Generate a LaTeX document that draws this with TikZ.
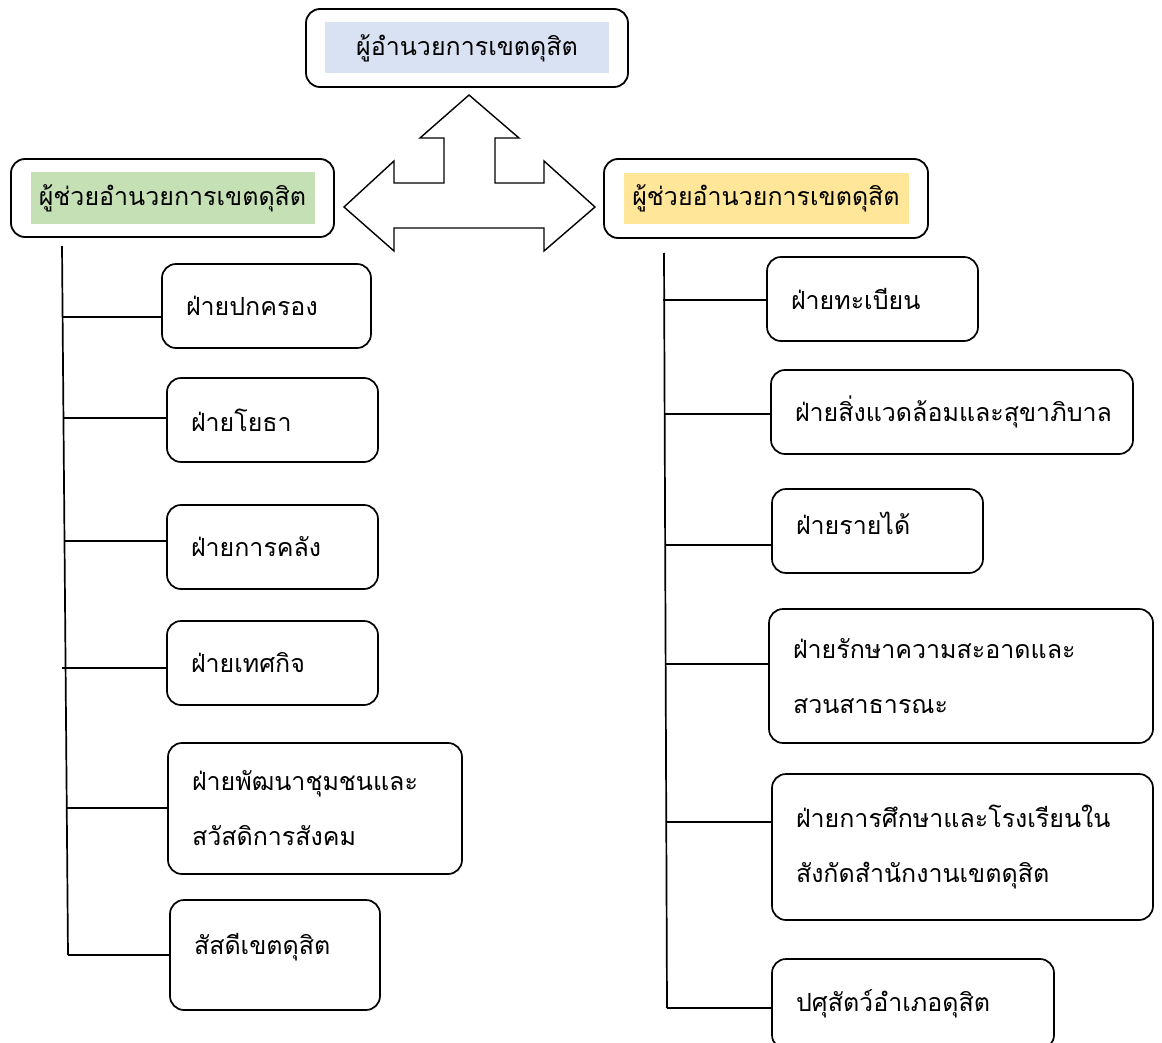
\documentclass[tikz,border=0pt]{standalone}
\usepackage{fontspec}
\newfontfamily\thai[Script=Thai]{Loma}
\definecolor{topblue}{HTML}{D9E2F3}
\definecolor{leftgreen}{HTML}{C5E0B4}
\definecolor{rightyellow}{HTML}{FFE699}
\begin{document}
\begin{tikzpicture}[x=1pt,y=-1pt,
  every node/.style={font=\thai\fontsize{25}{55}\selectfont},
  pbox/.style={draw, line width=1.8pt, rounded corners=14pt, anchor=north west, inner sep=0pt, outer sep=0pt},
  fillbox/.style={inner sep=0pt, outer sep=0pt},
  unit/.style={draw, line width=1.7pt, rounded corners=14pt, anchor=north west, align=left,
     inner xsep=24pt, inner ysep=0pt, outer sep=0pt},
  conn/.style={line width=1.7pt},
  bigarrow/.style={draw, line width=1.4pt, fill=white, line join=miter}]
\useasboundingbox (0,0) rectangle (1162,1043);

% top / parent boxes
\node[pbox, minimum width=322pt, minimum height=78pt] (top) at (306,9) {};
\node[fillbox, fill=topblue, minimum width=284pt, minimum height=51pt] (toptxt) at (top.center) {ผู้อำนวยการเขตดุสิต};
\node[pbox, minimum width=323pt, minimum height=78pt] (left) at (11,159) {};
\node[fillbox, fill=leftgreen, minimum width=284pt, minimum height=52pt] (lefttxt) at (left.center) {ผู้ช่วยอำนวยการเขตดุสิต};
\node[pbox, minimum width=324pt, minimum height=79pt] (right) at (604,159) {};
\node[fillbox, fill=rightyellow, minimum width=285pt, minimum height=51pt] (righttxt) at (right.center) {ผู้ช่วยอำนวยการเขตดุสิต};

% big three-way arrow
\draw[bigarrow] (469,95) -- (519,138) -- (495,138) -- (495,183) -- (544,183) -- (544,161)
  -- (595,207) -- (544,251) -- (544,228) -- (394,228) -- (394,251) -- (344,207)
  -- (394,161) -- (394,183) -- (444,183) -- (444,138) -- (420,138) -- cycle;

% left units
\node[unit, minimum width=209pt, minimum height=84pt, text width=161pt] (l1) at (162,264) {ฝ่ายปกครอง};
\node[unit, minimum width=211pt, minimum height=84pt, text width=163pt] (l2) at (167,378) {ฝ่ายโยธา};
\node[unit, minimum width=211pt, minimum height=84pt, text width=163pt] (l3) at (167,505) {ฝ่ายการคลัง};
\node[unit, minimum width=211pt, minimum height=84pt, text width=163pt] (l4) at (167,621) {ฝ่ายเทศกิจ};
\node[unit, minimum width=294pt, minimum height=131pt, text width=246pt] (l5) at (168,743) {ฝ่ายพัฒนาชุมชนและ\\สวัสดิการสังคม};
\node[unit, minimum width=210pt, minimum height=110pt, text width=162pt, text depth=22pt] (l6) at (170,900) {สัสดีเขตดุสิต};

% right units
\node[unit, minimum width=211pt, minimum height=84pt, text width=163pt] (r1) at (767,257) {ฝ่ายทะเบียน};
\node[unit, minimum width=362pt, minimum height=84pt, text width=314pt] (r2) at (771,370) {ฝ่ายสิ่งแวดล้อมและสุขาภิบาล};
\node[unit, minimum width=211pt, minimum height=84pt, text width=163pt, text depth=16pt] (r3) at (772,489) {ฝ่ายรายได้};
\node[unit, minimum width=384pt, minimum height=134pt, text width=336pt] (r4) at (769,609) {ฝ่ายรักษาความสะอาดและ\\สวนสาธารณะ};
\node[unit, minimum width=381pt, minimum height=146pt, text width=333pt] (r5) at (772,774) {ฝ่ายการศึกษาและโรงเรียนใน\\สังกัดสำนักงานเขตดุสิต};
\node[unit, minimum width=282pt, minimum height=90pt, text width=234pt] (r6) at (772,959) {ปศุสัตว์อำเภอดุสิต};

% trunks
\coordinate (Ltop) at (62,246);
\coordinate (Lbot) at (68,955);
\coordinate (Rtop) at (664,253);
\coordinate (Rbot) at (667,1008);
\draw[conn] (Ltop) -- (Lbot);
\draw[conn] (Rtop) -- (Rbot);

% connector start points on trunks
\coordinate (cl1) at (62.5,317);
\coordinate (cl2) at (63.5,418);
\coordinate (cl3) at (64.5,541);
\coordinate (cl4) at (62,668);
\coordinate (cl5) at (67,808);
\coordinate (cl6) at (68,955);
\coordinate (cr1) at (663,300);
\coordinate (cr2) at (665,414);
\coordinate (cr3) at (665.5,545);
\coordinate (cr4) at (666,664);
\coordinate (cr5) at (666.5,822);
\coordinate (cr6) at (667,1008);

\foreach \i in {1,...,6} {
  \draw[conn] (cl\i) -- (l\i.west |- cl\i);
  \draw[conn] (cr\i) -- (r\i.west |- cr\i);
}
\end{tikzpicture}
\end{document}
